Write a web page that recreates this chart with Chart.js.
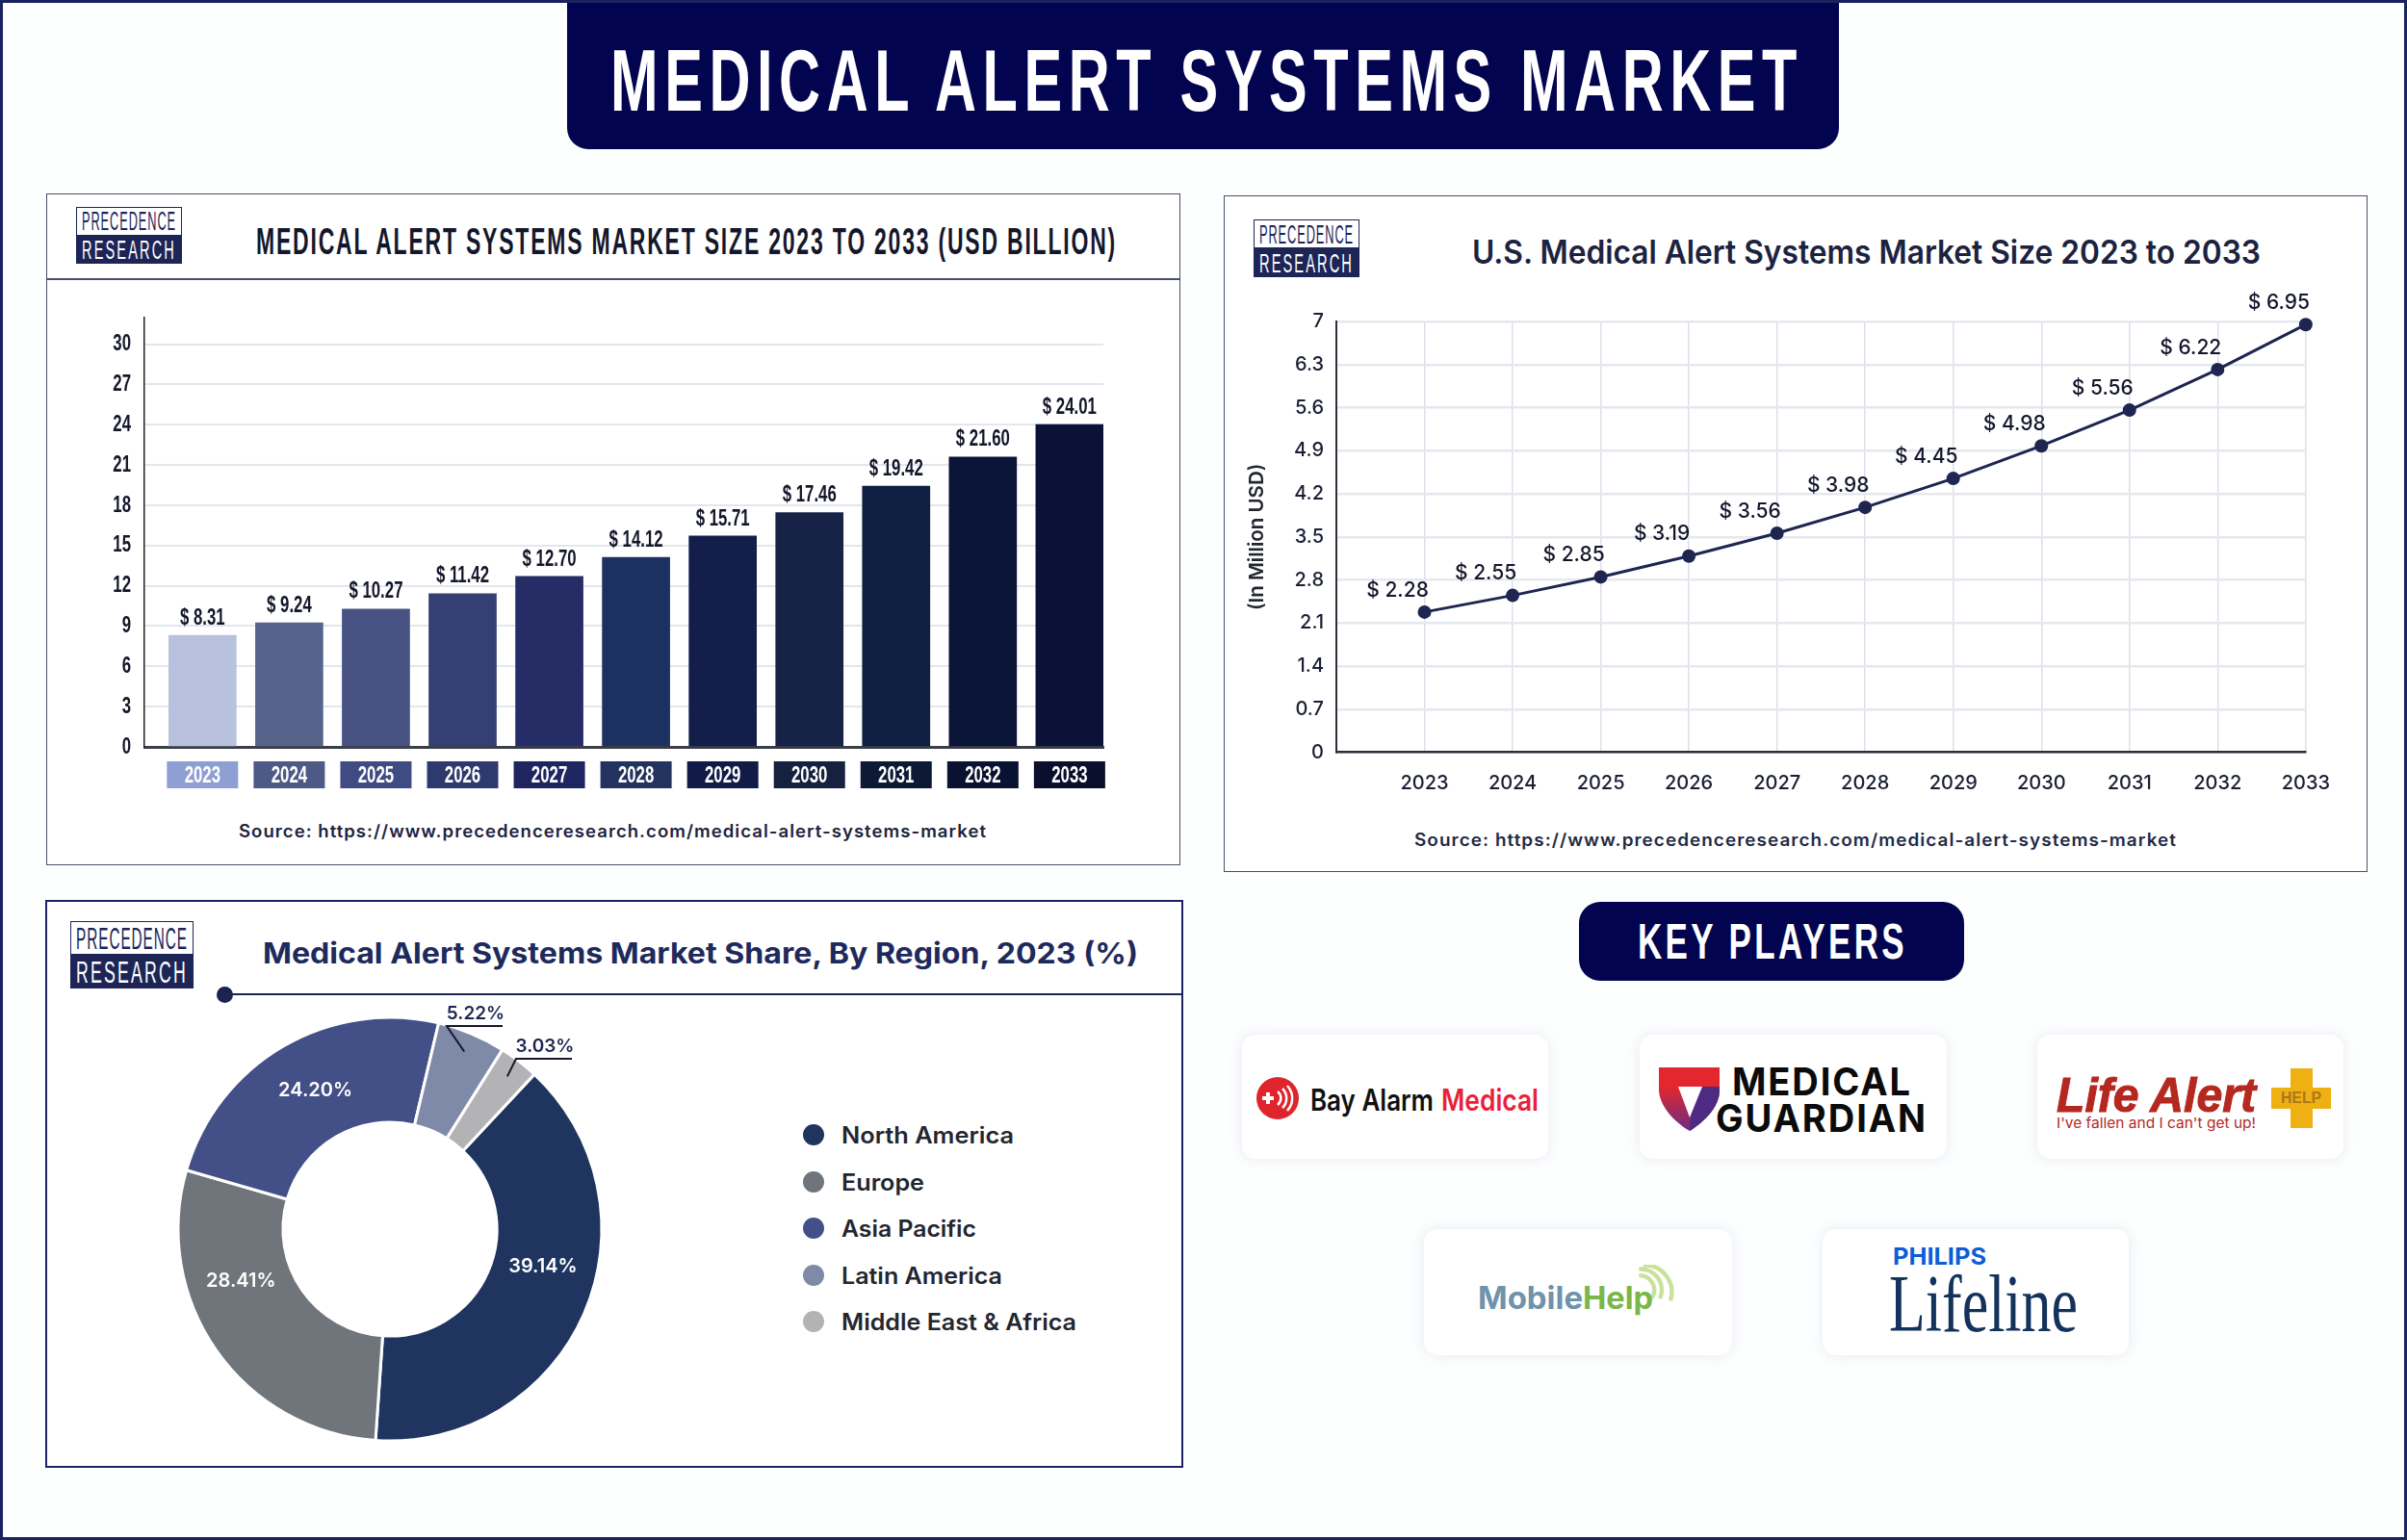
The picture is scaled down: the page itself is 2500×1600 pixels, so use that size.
<!DOCTYPE html>
<html>
<head>
<meta charset="utf-8">
<title>Medical Alert Systems Market</title>
<script src="https://cdn.jsdelivr.net/npm/chart.js@4"></script>
<style>
  html, body { margin: 0; padding: 0; background: #fdfefe; }
  #page { position: relative; width: 2500px; height: 1600px; overflow: hidden; background: #fdfefe; box-sizing: border-box; border: 3px solid #1b2260; }
  #page > * { position: absolute; }
  .t { white-space: nowrap; line-height: 1; transform-origin: 0 50%; }
  .panel { box-sizing: border-box; background: #fff; }
  .card { background: #fff; border-radius: 14px; box-shadow: 0 0 14px rgba(190,196,220,.35); }
  canvas { display: block; }
</style>
</head>
<body>
<div id="page"></div>
<script>
const NARROW = '"Liberation Sans", sans-serif';
const SANS = 'Inter, "Open Sans", sans-serif';
const NAVY = '#02044f';
const INK = '#1d2550';

const years = [2023, 2024, 2025, 2026, 2027, 2028, 2029, 2030, 2031, 2032, 2033];
const marketSize = [8.31, 9.24, 10.27, 11.42, 12.70, 14.12, 15.71, 17.46, 19.42, 21.60, 24.01];
const usMarketSize = [2.28, 2.55, 2.85, 3.19, 3.56, 3.98, 4.45, 4.98, 5.56, 6.22, 6.95];
const marketTicks = [0, 3, 6, 9, 12, 15, 18, 21, 24, 27, 30];
const usTicks = [0, 0.7, 1.4, 2.1, 2.8, 3.5, 4.2, 4.9, 5.6, 6.3, 7];
const regions = ['North America', 'Europe', 'Asia Pacific', 'Latin America', 'Middle East & Africa'];
const regionShares = [39.14, 28.41, 24.20, 5.22, 3.03];

const barColors = ['#b8c1de', '#56648c', '#475282', '#343f73', '#252c66', '#1d3160', '#131f4a', '#162347', '#0f1f42', '#0a1436', '#0a1238'];
const yearBoxColors = ['#8f9fd4', '#4c5a85', '#3f4b82', '#2e3a6d', '#1f2560', '#22335f', '#121b47', '#16213f', '#0d1a36', '#0a1232', '#0a0f2e'];
const regionColors = ['#1f3560', '#6f757a', '#434f87', '#7f89a8', '#b3b3b5'];

const page = document.getElementById('page');

// page has a 3px border, children are placed from the inner edge
function box(x, y, w, h, css, cls) {
  const d = document.createElement('div');
  d.style.cssText = `left:${x - 3}px;top:${y - 3}px;width:${w}px;height:${h}px;${css || ''}`;
  if (cls) d.className = cls;
  page.appendChild(d);
  return d;
}

// text centred on cy, squeezed or stretched to the width seen in the reference
function put(text, x, cy, w, css) {
  const d = document.createElement('div');
  d.className = 't';
  d.textContent = text;
  d.style.cssText = `left:${x - 3}px;top:${cy - 3}px;${css}`;
  page.appendChild(d);
  const k = w ? w / d.getBoundingClientRect().width : 1;
  d.style.transform = `translateY(-50%) scaleX(${k})`;
  return d;
}

function svg(x, y, w, h, vb, inner) {
  const d = box(x, y, w, h);
  d.innerHTML = `<svg xmlns="http://www.w3.org/2000/svg" width="${w}" height="${h}" viewBox="${vb}">${inner}</svg>`;
}

function brand(x, y, w, h) {
  box(x, y, w, h / 2, 'box-sizing:border-box;border:1.5px solid #1d2557;background:#fff;');
  box(x, y + h / 2, w, h / 2, 'background:#1d2557;');
  const fs = Math.round(h * 0.46);
  put('PRECEDENCE', x + 6, y + h * 0.26, w - 12, `font:400 ${fs}px ${NARROW};letter-spacing:2px;color:#1d2557;`);
  put('RESEARCH', x + 6, y + h * 0.76, w - 12, `font:400 ${fs}px ${NARROW};letter-spacing:4px;color:#fff;`);
}

function makeCanvas(x, y, w, h) {
  const c = document.createElement('canvas');
  c.width = w; c.height = h;
  c.style.cssText = `left:${x - 3}px;top:${y - 3}px;width:${w}px;height:${h}px;`;
  page.appendChild(c);
  return c;
}

function narrowText(ctx, text, x, y, squeeze) {
  ctx.save();
  ctx.translate(x, y);
  ctx.scale(squeeze, 1);
  ctx.fillText(text, 0, 0);
  ctx.restore();
}

// "$ 8.31" style labels next to each mark
const valueLabels = {
  id: 'valueLabels',
  afterDatasetsDraw(chart, args, opts) {
    const { ctx } = chart;
    ctx.save();
    ctx.font = opts.font;
    ctx.fillStyle = opts.color;
    ctx.textAlign = 'center';
    ctx.textBaseline = 'bottom';
    chart.getDatasetMeta(0).data.forEach((el, i) => {
      const v = chart.data.datasets[0].data[i].y;
      narrowText(ctx, `$ ${v.toFixed(2)}`, el.x + opts.dx, el.y + opts.dy, opts.squeeze);
    });
    ctx.restore();
  }
};

// no condensed face is installed, so the bar chart ticks are squeezed by hand
const narrowTicks = {
  id: 'narrowTicks',
  afterDraw(chart) {
    const { ctx } = chart;
    const squeeze = 0.7;
    ctx.save();
    ctx.font = `700 24px ${NARROW}`;
    ctx.textBaseline = 'middle';
    ctx.textAlign = 'center';
    const sx = chart.scales.x;
    sx.ticks.forEach((t, i) => {
      const px = sx.getPixelForTick(i);
      ctx.fillStyle = yearBoxColors[i];
      ctx.fillRect(px - 37, sx.top + 15, 74, 28);
      ctx.fillStyle = '#fff';
      narrowText(ctx, t.label, px, sx.top + 30, squeeze);
    });
    const sy = chart.scales.y;
    ctx.fillStyle = '#14172b';
    ctx.textAlign = 'right';
    sy.ticks.forEach((t, i) => {
      narrowText(ctx, t.label, sy.right - 14, sy.getPixelForTick(i), squeeze);
    });
    ctx.restore();
  }
};

// header block
box(589, 0, 1321, 155, `background:${NAVY};border-radius:0 0 22px 22px;`);
put('MEDICAL ALERT SYSTEMS MARKET', 634, 84, 1239, `font:700 90px ${NARROW};letter-spacing:10px;color:#fff;`);

// panel 1: bars
box(48, 201, 1178, 698, 'border:1.5px solid #4a5066;', 'panel');
box(48, 289, 1178, 1.5, 'background:#4a5066;');
brand(79, 215, 110, 59);
put('MEDICAL ALERT SYSTEMS MARKET SIZE 2023 TO 2033 (USD BILLION)', 266, 251, 894, `font:700 38px ${NARROW};letter-spacing:3px;color:#14172b;`);
put('Source: https://www.precedenceresearch.com/medical-alert-systems-market', 248, 863, 777, `font:600 18px ${SANS};letter-spacing:1px;color:#1d2340;`);

new Chart(makeCanvas(90, 300, 1080, 540), {
  type: 'bar',
  data: {
    datasets: [{
      data: years.map((x, i) => ({ x, y: marketSize[i] })),
      backgroundColor: barColors,
      barThickness: 70
    }]
  },
  options: {
    responsive: false,
    animation: false,
    devicePixelRatio: 1,
    layout: { padding: { top: 30, right: 24, left: 0, bottom: 0 } },
    plugins: {
      legend: { display: false },
      tooltip: { enabled: false },
      valueLabels: { font: `700 24px ${NARROW}`, color: '#14172b', dx: 0, dy: -6, squeeze: 0.7 }
    },
    scales: {
      x: {
        type: 'linear',
        offset: false,
        min: 2022.33,
        max: 2033.39,
        afterBuildTicks: (s) => { s.ticks = years.map((value) => ({ value })); },
        afterFit: (s) => { s.height = 64; },
        grid: { display: false, offset: false },
        border: { color: '#3a3e46', width: 3 },
        ticks: {
          display: false,
          autoSkip: false,
          maxRotation: 0,
          callback: (v) => String(v)
        }
      },
      y: {
        min: 0,
        max: 31.98,
        afterBuildTicks: (s) => { s.ticks = marketTicks.map((value) => ({ value })); },
        afterFit: (s) => { s.width = 60; },
        grid: { color: '#e3e6ee', lineWidth: 2, drawTicks: false },
        border: { color: '#222', width: 1.5 },
        ticks: {
          display: false,
          callback: (v) => String(v)
        }
      }
    }
  },
  plugins: [valueLabels, narrowTicks]
});

// panel 2: line
box(1271, 203, 1188, 703, 'border:1.5px solid #4a5066;', 'panel');
brand(1302, 228, 110, 60);
put('U.S. Medical Alert Systems Market Size 2023 to 2033', 1529, 261, 819, `font:600 34px ${SANS};color:#1c2340;`);
put('Source: https://www.precedenceresearch.com/medical-alert-systems-market', 1469, 872, 792, `font:600 18px ${SANS};letter-spacing:1px;color:#1f2a44;`);

new Chart(makeCanvas(1290, 300, 1150, 540), {
  type: 'line',
  data: {
    datasets: [{
      data: years.map((x, i) => ({ x, y: usMarketSize[i] })),
      borderColor: INK,
      borderWidth: 3,
      tension: 0,
      clip: false,
      pointRadius: 7,
      pointBackgroundColor: INK,
      pointBorderColor: INK,
      pointBorderWidth: 0
    }]
  },
  options: {
    responsive: false,
    animation: false,
    devicePixelRatio: 1,
    layout: { padding: { top: 34, right: 36, left: 0, bottom: 0 } },
    plugins: {
      legend: { display: false },
      tooltip: { enabled: false },
      valueLabels: { font: `500 21px ${SANS}`, color: '#14172b', dx: -28, dy: -12, squeeze: 1 }
    },
    scales: {
      x: {
        type: 'linear',
        min: 2022,
        max: 2033,
        afterBuildTicks: (s) => { s.ticks = years.map((value) => ({ value })); },
        afterFit: (s) => { s.height = 58.3; },
        grid: { color: '#dde0e8', lineWidth: 1.5, drawTicks: false },
        border: { color: '#2b2f3a', width: 2.5 },
        ticks: {
          autoSkip: false,
          maxRotation: 0,
          padding: 20,
          color: '#1a1f33',
          font: { family: SANS, size: 20, weight: '500' },
          callback: (v) => String(v)
        }
      },
      y: {
        min: 0,
        max: 7,
        afterBuildTicks: (s) => { s.ticks = usTicks.map((value) => ({ value })); },
        afterFit: (s) => { s.width = 98; },
        grid: { color: '#e6e8ef', lineWidth: 2.5, drawTicks: false },
        border: { color: '#2b2f3a', width: 2 },
        title: {
          display: true,
          text: '(In Million USD)',
          color: '#23262f',
          font: { family: SANS, size: 20.5, weight: '600' },
          padding: { top: 4, bottom: 0 }
        },
        ticks: {
          padding: 13,
          color: '#1a1f33',
          font: { family: SANS, size: 20, weight: '500' },
          callback: (v) => String(v)
        }
      }
    }
  },
  plugins: [valueLabels]
});

// panel 3: doughnut
box(47, 935, 1182, 590, 'border:2px solid #1d2168;', 'panel');
brand(73, 957, 128, 70);
put('Medical Alert Systems Market Share, By Region, 2023 (%)', 273, 990, 909, `font:700 30px ${SANS};color:#1e2a5c;`);
box(233, 1032, 995, 2, 'background:#1b2350;');
box(225, 1025, 17, 17, 'background:#1b2350;border-radius:50%;');

const shareFmt = (v) => `${v.toFixed(2)}%`;
// big slices carry their label inside, thin ones get a leader with an underline
const sliceLabelShift = [[7, -27], [-19, -41], [6, -1]];
const calloutAnchor = [[464, 1066], [536, 1100]];

const shareLabels = {
  id: 'shareLabels',
  afterDatasetsDraw(chart) {
    const { ctx } = chart;
    const box0 = chart.canvas.getBoundingClientRect();
    const meta = chart.getDatasetMeta(0);
    ctx.save();
    ctx.textAlign = 'center';
    ctx.textBaseline = 'middle';
    ctx.font = `600 20px ${SANS}`;
    sliceLabelShift.forEach((s, i) => {
      const p = meta.data[i].getCenterPoint();
      ctx.fillStyle = '#fff';
      ctx.fillText(shareFmt(regionShares[i]), p.x + s[0], p.y + s[1]);
    });
    calloutAnchor.forEach((a, j) => {
      const el = meta.data[j + 3];
      const mid = (el.startAngle + el.endAngle) / 2;
      const ax = a[0] - box0.left;
      const ay = a[1] - box0.top;
      ctx.strokeStyle = '#14172b';
      ctx.lineWidth = 2;
      ctx.beginPath();
      ctx.moveTo(el.x + Math.cos(mid) * (el.outerRadius - 20), el.y + Math.sin(mid) * (el.outerRadius - 20));
      ctx.lineTo(ax, ay);
      ctx.lineTo(ax + 58, ay);
      ctx.stroke();
      ctx.fillStyle = '#1d2550';
      ctx.font = `600 19px ${SANS}`;
      ctx.fillText(shareFmt(regionShares[j + 3]), ax + 30, ay - 13);
    });
    ctx.restore();
  }
};

new Chart(makeCanvas(135, 1007, 540, 540), {
  type: 'doughnut',
  data: {
    labels: regions,
    datasets: [{
      data: regionShares,
      backgroundColor: regionColors,
      borderColor: '#fff',
      borderWidth: 3,
      radius: 220,
      cutout: '50.5%'
    }]
  },
  options: {
    responsive: false,
    animation: false,
    devicePixelRatio: 1,
    rotation: 43,
    layout: { padding: 0 },
    plugins: { legend: { display: false }, tooltip: { enabled: false } }
  },
  plugins: [shareLabels]
});

const legendY = [1179, 1228, 1276, 1325, 1373];
const legendW = [179, 86, 140, 167, 244];
regions.forEach((r, i) => {
  box(834, legendY[i] - 11, 22, 22, `background:${regionColors[i]};border-radius:50%;`);
  put(r, 874, legendY[i], legendW[i], `font:600 24px ${SANS};color:#23262f;`);
});

// key players
box(1640, 937, 400, 82, `background:${NAVY};border-radius:22px;`);
put('KEY PLAYERS', 1701, 978, 280, `font:700 52px ${NARROW};letter-spacing:5px;color:#fff;`);

[[1290, 1075, 318, 129], [1703, 1075, 319, 129], [2116, 1075, 318, 129], [1479, 1277, 320, 131], [1893, 1277, 318, 131]]
  .forEach((c) => box(c[0], c[1], c[2], c[3], '', 'card'));

// Bay Alarm Medical
svg(1305, 1119, 44, 44, '0 0 44 44', `<circle cx="22" cy="22" r="22" fill="#e0242c"/>
  <rect x="6" y="20" width="12" height="4" fill="#fff"/><rect x="10" y="16" width="4" height="12" fill="#fff"/>
  <path d="M22 15a9 9 0 0 1 0 14M27 12a14 14 0 0 1 0 20M32 9a19 19 0 0 1 0 26" fill="none" stroke="#fff" stroke-width="2.5"/>`);
put('Bay Alarm', 1361, 1142, 128, `font:600 31px ${SANS};color:#111;`);
put('Medical', 1497, 1142, 101, `font:600 31px ${SANS};color:#e8223a;`);

// Medical Guardian
svg(1723, 1109, 63, 66, '0 0 63 66', `<defs><linearGradient id="sh" x1="0" y1="0" x2="0" y2="1"><stop offset="0.3" stop-color="#e4262e"/><stop offset="1" stop-color="#6a2d85"/></linearGradient></defs>
  <path d="M0 0H63V24C63 42 45 58 32 66C18 58 1 42 0 24Z" fill="url(#sh)"/>
  <path d="M33 20H63V24C63 42 45 58 32 66L33 52Z" fill="#4f2a82"/>
  <path d="M20 20H45L32 52Z" fill="#fff"/>`);
put('MEDICAL', 1799, 1123, 187, `font:700 40px ${SANS};letter-spacing:2px;color:#0b0b0b;`);
put('GUARDIAN', 1782, 1161, 220, `font:700 40px ${SANS};letter-spacing:2px;color:#0b0b0b;`);

// Life Alert
put('Life Alert', 2136, 1138, 207, `font:italic 700 50px "Liberation Sans", sans-serif;-webkit-text-stroke:1px #b5281f;color:#b5281f;`);
put("I've fallen and I can't get up!", 2136, 1166, 207, `font:400 15px ${SANS};color:#b5281f;`);
box(2379, 1110, 23, 62, 'background:#eeb012;');
box(2359, 1130, 62, 22, 'background:#eeb012;');
put('HELP', 2369, 1141, 42, `font:700 16px ${NARROW};color:#a9771a;`);

// MobileHelp
svg(1698, 1314, 50, 44, '0 0 46 40', `<path d="M4 10a14 14 0 0 1 12 22M4 4a20 20 0 0 1 20 28M8 0a26 26 0 0 1 26 34" fill="none" stroke="#c9e29b" stroke-width="4"/>`);
put('Mobile', 1535, 1348, 109, `font:700 32px ${SANS};color:#6f93ad;`);
put('Help', 1644, 1348, 73, `font:700 32px ${SANS};color:#7ab648;`);

// Philips Lifeline
put('PHILIPS', 1966, 1305, 97, `font:700 24px ${SANS};color:#0b5ed7;`);
put('Lifeline', 1962, 1354, 196, `font:400 84px "Liberation Serif", serif;color:#13325c;`);
</script>
</body>
</html>
